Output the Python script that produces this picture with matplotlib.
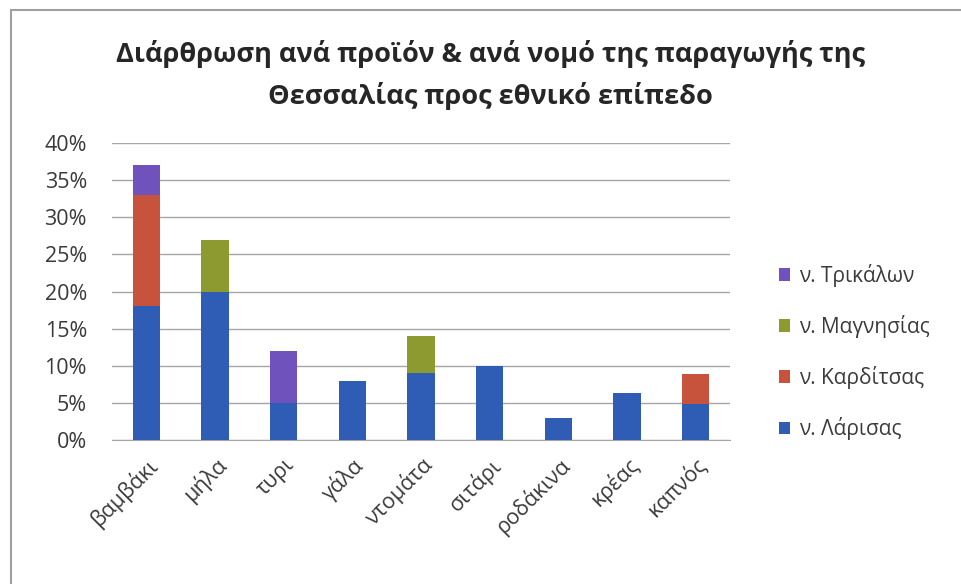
import matplotlib.pyplot as plt
from matplotlib.patches import Rectangle
from matplotlib.ticker import FuncFormatter
import numpy as np

plt.rcParams['font.family'] = ['Open Sans', 'DejaVu Sans']

products = ["βαμβάκι", "μήλα", "τυρι", "γάλα", "ντομάτα", "σιτάρι", "ροδάκινα", "κρέας", "καπνός"]
larisa = [18, 20, 5, 8, 9, 10, 3, 6.3, 4.8]
karditsa = [15, 0, 0, 0, 0, 0, 0, 0, 4.1]
magnisia = [0, 7, 0, 0, 5, 0, 0, 0, 0]
trikala = [4, 0, 7, 0, 0, 0, 0, 0, 0]

series = [
    ("ν. Λάρισας", larisa, "#2F5DB6"),
    ("ν. Καρδίτσας", karditsa, "#C8533C"),
    ("ν. Μαγνησίας", magnisia, "#8C9A2F"),
    ("ν. Τρικάλων", trikala, "#7052BC"),
]

fig = plt.figure(figsize=(9.61, 5.84), dpi=100)
ax = fig.add_axes([112 / 961, 1 - 440 / 584, 618 / 961, 297 / 584])

x = np.arange(len(products))
bottom = np.zeros(len(products))
handles = []
for name, vals, col in series:
    b = ax.bar(x, vals, 0.4, bottom=bottom, color=col, label=name, zorder=3)
    handles.append(b)
    bottom += np.array(vals)

ax.set_xlim(-0.5, len(products) - 0.5)
ax.set_ylim(0, 40)
ax.set_yticks(range(0, 41, 5))
ax.yaxis.set_major_formatter(FuncFormatter(lambda v, p: f"{v:.0f}%"))
ax.grid(axis="y", color="#A6A6A6", linewidth=1, zorder=0)
for s in ["top", "right", "left"]:
    ax.spines[s].set_visible(False)
ax.spines["bottom"].set_color("#A6A6A6")
ax.tick_params(axis="y", length=0, pad=18, labelsize=15.5, labelcolor="#3A3A3A")
ax.tick_params(axis="x", length=0, pad=10, labelsize=15.5, labelcolor="#3A3A3A")
ax.set_xticks(x)
ax.set_xticklabels(products, rotation=45, ha="right", rotation_mode="anchor")

fig.suptitle("Διάρθρωση ανά προϊόν & ανά νομό της παραγωγής της\nΘεσσαλίας προς εθνικό επίπεδο",
             x=0.51, y=0.932, fontsize=19.5, fontweight="bold", color="#262626", linespacing=1.65)

leg = fig.legend(handles[::-1], [s[0] for s in series][::-1], loc="center left",
                 bbox_to_anchor=(760 / 961, 1 - 352 / 584), frameon=False, fontsize=15,
                 handlelength=0.55, handleheight=0.55, handletextpad=0.4, labelspacing=1.35)
for t in leg.get_texts():
    t.set_color("#3A3A3A")

fig.patches.append(Rectangle((11 / 961, -0.1), 1.2, 1 - 10 / 584 + 0.1, transform=fig.transFigure,
                             fill=False, edgecolor="#A0A0A0", linewidth=1.5))

fig.savefig("out.png", dpi=100)
